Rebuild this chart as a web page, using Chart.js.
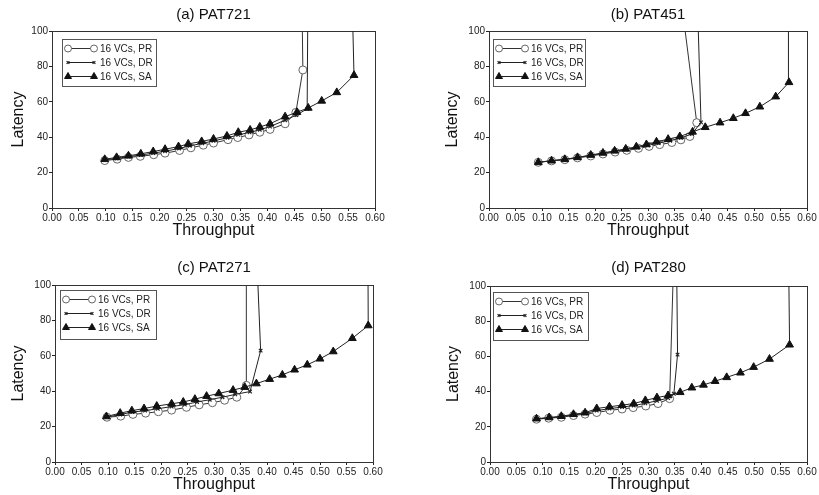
<!DOCTYPE html>
<html>
<head>
<meta charset="utf-8">
<script src="https://cdn.jsdelivr.net/npm/chart.js@4.4.0/dist/chart.umd.min.js"></script>
<style>
  html, body { margin: 0; padding: 0; background: #fff; }
  #wrap { position: relative; width: 819px; height: 495px; overflow: hidden; }
  canvas { position: absolute; }
</style>
</head>
<body>
<div id="wrap">
  <canvas id="chartA" width="410" height="250" style="left:0;top:0"></canvas>
  <canvas id="chartB" width="409" height="250" style="left:410px;top:0"></canvas>
  <canvas id="chartC" width="410" height="245" style="left:0;top:250px"></canvas>
  <canvas id="chartD" width="409" height="245" style="left:410px;top:250px"></canvas>
</div>
<script>
// series labels and tick values
const seriesNames = ['16 VCs, PR', '16 VCs, DR', '16 VCs, SA'];
const xTickValues = [0, 0.05, 0.10, 0.15, 0.20, 0.25, 0.30, 0.35, 0.40, 0.45, 0.50, 0.55, 0.60];
const yTickValues = [0, 20, 40, 60, 80, 100];

// (a) PAT721  -- [throughput, latency]; last point runs off the top
const pat721PR = [[0.098,26.8],[0.121,27.6],[0.142,28.6],[0.164,29.2],[0.189,30.1],[0.210,31.0],[0.237,32.5],[0.258,34.0],[0.281,35.5],[0.300,36.7],[0.327,38.6],[0.345,39.8],[0.366,41.3],[0.386,42.8],[0.405,44.4],[0.433,47.6],[0.453,54.0],[0.466,78.0],[0.463,150]];
const pat721DR = [[0.098,27.2],[0.120,28.0],[0.142,29.0],[0.165,29.9],[0.188,31.0],[0.210,32.1],[0.236,33.6],[0.256,35.1],[0.279,36.5],[0.300,37.9],[0.326,39.7],[0.346,41.3],[0.367,42.7],[0.386,44.2],[0.405,46.0],[0.433,49.6],[0.454,52.5],[0.474,56.0],[0.476,150]];
const pat721SA = [[0.098,27.5],[0.120,28.6],[0.142,29.5],[0.165,30.6],[0.188,31.9],[0.210,33.2],[0.235,34.7],[0.253,36.2],[0.278,37.6],[0.300,39.0],[0.325,40.7],[0.346,42.8],[0.368,44.1],[0.386,45.8],[0.405,47.6],[0.433,51.6],[0.455,54.1],[0.476,56.5],[0.501,60.5],[0.529,65.3],[0.561,75.0],[0.555,150]];

// (b) PAT451
const pat451PR = [[0.093,25.8],[0.118,26.6],[0.143,27.3],[0.167,28.3],[0.192,29.4],[0.215,30.5],[0.238,31.6],[0.260,32.6],[0.282,33.7],[0.302,34.8],[0.322,35.8],[0.345,37.0],[0.362,38.5],[0.379,40.4],[0.392,48.2],[0.349,150]];
const pat451DR = [[0.093,25.9],[0.118,26.7],[0.143,27.5],[0.167,28.5],[0.192,29.7],[0.215,30.9],[0.237,32.0],[0.258,33.0],[0.280,34.2],[0.300,35.4],[0.320,36.7],[0.342,38.0],[0.362,39.6],[0.383,41.8],[0.400,48.4],[0.390,150]];
const pat451SA = [[0.093,25.8],[0.118,26.7],[0.143,27.5],[0.167,28.6],[0.192,29.9],[0.215,31.1],[0.237,32.3],[0.258,33.4],[0.278,34.6],[0.297,35.9],[0.316,37.4],[0.338,38.9],[0.360,40.4],[0.384,43.0],[0.408,45.6],[0.436,48.2],[0.461,50.7],[0.484,53.5],[0.511,57.2],[0.541,62.9],[0.566,71.0],[0.565,150]];

// (c) PAT271
const pat271PR = [[0.098,25.3],[0.124,25.9],[0.147,26.9],[0.171,27.6],[0.195,28.4],[0.220,29.3],[0.248,30.9],[0.272,32.3],[0.297,33.5],[0.320,34.9],[0.343,36.6],[0.361,43.3],[0.361,150]];
const pat271DR = [[0.098,25.4],[0.123,26.8],[0.146,28.2],[0.170,29.0],[0.194,30.1],[0.220,31.3],[0.245,32.4],[0.268,33.9],[0.292,35.2],[0.316,36.6],[0.340,38.2],[0.368,39.8],[0.388,62.9],[0.376,150]];
const pat271SA = [[0.097,25.7],[0.123,27.6],[0.145,29.0],[0.168,30.2],[0.192,31.6],[0.220,32.9],[0.242,33.9],[0.264,35.5],[0.286,37.2],[0.309,38.7],[0.336,40.6],[0.358,42.3],[0.380,44.3],[0.405,46.8],[0.429,49.2],[0.452,52.1],[0.476,54.9],[0.500,58.3],[0.525,62.4],[0.561,69.9],[0.591,77.1],[0.590,150]];

// (d) PAT280
const pat280PR = [[0.088,24.3],[0.111,24.9],[0.135,25.4],[0.158,26.4],[0.180,27.2],[0.202,28.1],[0.227,29.4],[0.250,30.1],[0.271,30.9],[0.295,31.8],[0.318,33.2],[0.340,36.0],[0.351,150]];
const pat280DR = [[0.088,24.5],[0.112,25.1],[0.135,25.7],[0.158,26.8],[0.180,27.6],[0.202,29.2],[0.226,30.3],[0.250,31.2],[0.272,32.1],[0.294,33.3],[0.316,34.8],[0.337,36.3],[0.348,38.8],[0.355,61.0],[0.352,150]];
const pat280SA = [[0.088,24.6],[0.112,25.3],[0.135,26.0],[0.158,27.1],[0.180,28.0],[0.202,30.4],[0.226,31.4],[0.250,32.3],[0.272,33.2],[0.294,35.0],[0.316,36.6],[0.337,37.8],[0.360,39.6],[0.382,42.2],[0.404,43.8],[0.426,45.9],[0.448,48.1],[0.474,50.7],[0.499,53.9],[0.529,58.5],[0.567,66.6],[0.564,150]];

const FONT = '"Liberation Sans", Arial, Helvetica, sans-serif';

// box around the plot area (top and right sides too)
const frameBox = {
  id: 'frameBox',
  beforeDatasetsDraw(chart) {
    const { ctx, chartArea: a } = chart;
    ctx.save();
    ctx.strokeStyle = '#333';
    ctx.lineWidth = 1;
    ctx.strokeRect(Math.round(a.left) + 0.5, Math.round(a.top) + 0.5, Math.round(a.right - a.left), Math.round(a.bottom - a.top));
    ctx.restore();
  }
};

// legend drawn inside the plot, top-left, with a marker at each end of the line
const insideLegend = {
  id: 'insideLegend',
  afterDatasetsDraw(chart, args, opts) {
    const { ctx, chartArea: a } = chart;
    const x0 = Math.round(a.left + opts.dx), y0 = Math.round(a.top + opts.dy);
    ctx.save();
    ctx.fillStyle = '#fff';
    ctx.fillRect(x0, y0, opts.w, opts.h);
    ctx.strokeStyle = '#555';
    ctx.lineWidth = 1;
    ctx.strokeRect(x0 + 0.5, y0 + 0.5, opts.w, opts.h);
    chart.data.datasets.forEach((ds, i) => {
      const y = y0 + 9.5 + i * 14;
      ctx.strokeStyle = ds.borderColor;
      ctx.lineWidth = 1;
      ctx.beginPath();
      ctx.moveTo(x0 + 6, y);
      ctx.lineTo(x0 + 32, y);
      ctx.stroke();
      const p = { pointStyle: ds.pointStyle, radius: ds.pointRadius - 0.5, borderWidth: ds.pointBorderWidth, rotation: 0 };
      ctx.fillStyle = ds.pointBackgroundColor;
      ctx.strokeStyle = ds.pointBorderColor;
      ctx.lineWidth = ds.pointBorderWidth;
      Chart.helpers.drawPoint(ctx, p, x0 + 6, y);
      Chart.helpers.drawPoint(ctx, p, x0 + 32, y);
      ctx.fillStyle = '#222';
      ctx.font = '10px ' + FONT;
      ctx.textBaseline = 'middle';
      ctx.textAlign = 'left';
      ctx.fillText(ds.label, x0 + 38, y + 0.5);
    });
    ctx.restore();
  }
};

function toPoints(pairs) {
  return pairs.map(p => ({ x: p[0], y: p[1] }));
}

function makeDatasets(pr, dr, sa) {
  return [
    {
      label: seriesNames[0], data: toPoints(pr), showLine: true, order: 2,
      borderColor: '#333', borderWidth: 1,
      pointStyle: 'circle', pointRadius: 4, pointBorderWidth: 1,
      pointBackgroundColor: '#fff', pointBorderColor: '#666'
    },
    {
      label: seriesNames[1], data: toPoints(dr), showLine: true, order: 1,
      borderColor: '#222', borderWidth: 1,
      pointStyle: 'crossRot', pointRadius: 2.5, pointBorderWidth: 1.2,
      pointBackgroundColor: '#222', pointBorderColor: '#222'
    },
    {
      label: seriesNames[2], data: toPoints(sa), showLine: true, order: 0,
      borderColor: '#222', borderWidth: 1,
      pointStyle: 'triangle', pointRadius: 4.5, pointBorderWidth: 1,
      pointBackgroundColor: '#111', pointBorderColor: '#111'
    }
  ];
}

function makePanel(p) {
  const canvas = document.getElementById(p.id);
  const W = canvas.width, H = canvas.height;
  return new Chart(canvas, {
    type: 'scatter',
    data: { datasets: makeDatasets(p.pr, p.dr, p.sa) },
    options: {
      responsive: false,
      animation: false,
      layout: { padding: { left: 0, right: W - p.area.r, top: 0, bottom: 0 } },
      plugins: {
        legend: { display: false },
        tooltip: { enabled: false },
        title: {
          display: true, text: p.title, fullSize: false, color: '#111',
          font: { family: FONT, size: 15, weight: 'normal' },
          padding: { top: p.titlePad[0], bottom: p.titlePad[1] }
        },
        insideLegend: p.legend
      },
      scales: {
        x: {
          type: 'linear', min: 0, max: 0.6,
          afterFit(scale) { scale.height = H - p.area.b; },
          afterBuildTicks(scale) { scale.ticks = xTickValues.map(v => ({ value: v })); },
          border: { display: true, color: '#222', width: 1 },
          grid: { drawOnChartArea: false, drawTicks: true, tickLength: 3, color: '#222' },
          ticks: {
            autoSkip: false, maxRotation: 0, padding: 1, color: '#222',
            font: { family: FONT, size: 10 },
            callback: v => Number(v).toFixed(2)
          },
          title: {
            display: true, text: 'Throughput', color: '#111',
            font: { family: FONT, size: 16 },
            padding: { top: 0, bottom: p.xTitlePad }
          }
        },
        y: {
          type: 'linear', min: 0, max: 100,
          afterFit(scale) { scale.width = p.area.l; },
          afterBuildTicks(scale) { scale.ticks = yTickValues.map(v => ({ value: v })); },
          border: { display: true, color: '#222', width: 1 },
          grid: { drawOnChartArea: false, drawTicks: true, tickLength: 3, color: '#222' },
          ticks: {
            padding: 1, color: '#222',
            font: { family: FONT, size: 10 }
          },
          title: {
            display: true, text: 'Latency', color: '#111',
            font: { family: FONT, size: 16 },
            padding: { top: p.yTitlePad, bottom: 0 }
          }
        }
      }
    },
    plugins: [frameBox, insideLegend]
  });
}

const panels = [
  { id: 'chartA', title: '(a) PAT721', pr: pat721PR, dr: pat721DR, sa: pat721SA,
    area: { l: 52, r: 375, b: 208 }, titlePad: [6, 7], yTitlePad: 9, xTitlePad: 10,
    legend: { dx: 10, dy: 8, w: 94, h: 47 } },
  { id: 'chartB', title: '(b) PAT451', pr: pat451PR, dr: pat451DR, sa: pat451SA,
    area: { l: 79, r: 397, b: 208 }, titlePad: [6, 7], yTitlePad: 33, xTitlePad: 10,
    legend: { dx: 4, dy: 8, w: 92, h: 47 } },
  { id: 'chartC', title: '(c) PAT271', pr: pat271PR, dr: pat271DR, sa: pat271SA,
    area: { l: 55, r: 373, b: 212 }, titlePad: [9, 8], yTitlePad: 9, xTitlePad: 1,
    legend: { dx: 5, dy: 5, w: 96, h: 49 } },
  { id: 'chartD', title: '(d) PAT280', pr: pat280PR, dr: pat280DR, sa: pat280SA,
    area: { l: 80, r: 397, b: 212 }, titlePad: [9, 9], yTitlePad: 34, xTitlePad: 1,
    legend: { dx: 3, dy: 6, w: 95, h: 48 } }
];

panels.forEach(makePanel);
</script>
</body>
</html>
